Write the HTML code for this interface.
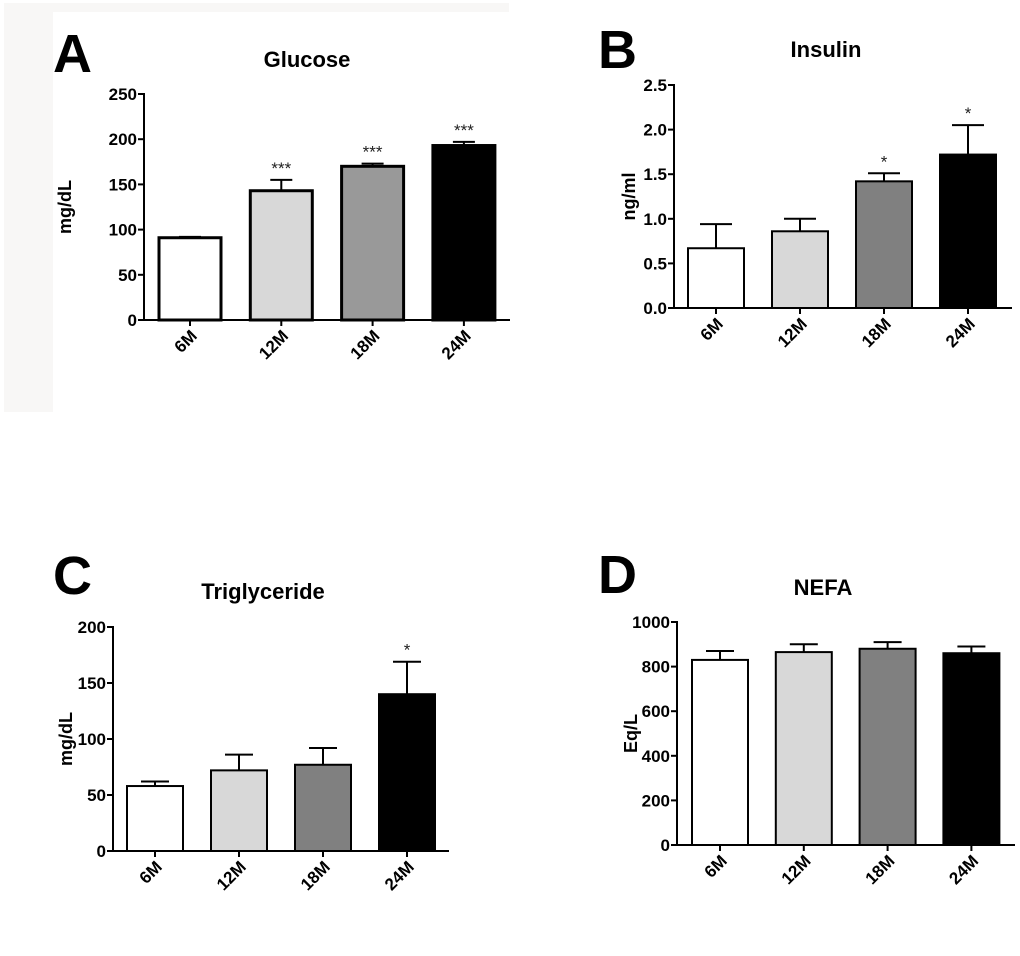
<!DOCTYPE html>
<html><head><meta charset="utf-8">
<style>
html,body{margin:0;padding:0;background:#fff;}
svg{display:block;font-family:"Liberation Sans",Arial,sans-serif;}
</style></head>
<body>
<svg id="fig" width="1020" height="956" viewBox="0 0 1020 956" xmlns="http://www.w3.org/2000/svg">
<rect x="4" y="3" width="505" height="9" fill="#f8f7f6"/>
<rect x="4" y="3" width="49" height="409" fill="#f8f7f6"/>
</svg>
<script>
const categories = ["6M","12M","18M","24M"];
const glucoseMeans = [91,143,170,193];
const glucoseErr = [1,12,3,4];
const glucoseSig = ["","***","***","***"];
const glucoseTicks = [0,50,100,150,200,250];
const insulinMeans = [0.67,0.86,1.42,1.72];
const insulinErr = [0.27,0.14,0.09,0.33];
const insulinSig = ["","","*","*"];
const insulinTicks = [0,0.5,1.0,1.5,2.0,2.5];
const insulinTickLabels = ["0.0","0.5","1.0","1.5","2.0","2.5"];
const trigMeans = [58,72,77,140];
const trigErr = [4,14,15,29];
const trigSig = ["","","","*"];
const trigTicks = [0,50,100,150,200];
const nefaMeans = [830,865,880,860];
const nefaErr = [40,35,30,30];
const nefaSig = ["","","",""];
const nefaTicks = [0,200,400,600,800,1000];

const NS="http://www.w3.org/2000/svg";
const svg=document.getElementById('fig');
function mk(tag,attrs,parent){const e=document.createElementNS(NS,tag);for(const k in attrs)e.setAttribute(k,attrs[k]);(parent||svg).appendChild(e);return e;}

function panel(cfg){
  const g=mk('g',{});
  
  
  const ax=cfg.ax, y0=cfg.y0, yTop=cfg.yTop, max=cfg.max;
  const yS=v=>y0-(v/max)*(y0-yTop);
  const xS=i=>cfg.firstTick+i*cfg.step;
  const sw=cfg.sw;
  const L=mk('text',{x:cfg.lx,y:cfg.ly,'font-size':54,'font-weight':'bold',fill:'#000'},g);
  L.textContent=cfg.letter;
  
  
  const T=mk('text',{x:cfg.tx,y:cfg.ty,'font-size':22,'font-weight':'bold','text-anchor':'middle',fill:'#000'},g);
  T.textContent=cfg.title;
  
  
  const fills=["#ffffff","#d8d8d8",cfg.c3,"#000000"];
  categories.forEach((c,i)=>{
    const cx=xS(i), m=cfg.means[i], e=cfg.err[i];
    const top=yS(m), et=yS(m+e);
    const el=mk('line',{x1:cx,x2:cx,y1:top,y2:et,stroke:'#000','stroke-width':2},g);
    
    
    const cap=mk('line',{x1:cx-cfg.cap,x2:cx+cfg.cap,y1:et,y2:et,stroke:'#000','stroke-width':2},g);
    
    
    const r=mk('rect',{x:cx-cfg.bw/2,y:top,width:cfg.bw,height:y0-top,fill:fills[i],stroke:'#000','stroke-width':sw},g);
    
    
    if(cfg.sig[i]){
      const s=mk('text',{x:cx,y:et-6,'font-size':cfg.sig[i].length>1?17:17,'text-anchor':'middle',fill:'#222'},g);
      s.textContent=cfg.sig[i];
      
      
    }
    const tk=mk('line',{x1:cx,x2:cx,y1:y0,y2:y0+6,stroke:'#000','stroke-width':2},g);
    
    
    const lx=cx+8, ly=y0+17;
    const tl=mk('text',{x:lx,y:ly,'font-size':17,'font-weight':'bold','text-anchor':'end',transform:`rotate(-45 ${lx} ${ly})`,fill:'#000'},g);
    tl.textContent=c;
    
    
  });
  const ya=mk('line',{x1:ax,x2:ax,y1:yTop-1,y2:y0+1,stroke:'#000','stroke-width':2},g);
  
  
  const xa=mk('line',{x1:ax-6,x2:cfg.xEnd,y1:y0,y2:y0,stroke:'#000','stroke-width':2},g);
  
  
  cfg.ticks.forEach((v,k)=>{
    const y=yS(v);
    const tk=mk('line',{x1:ax-6,x2:ax,y1:y,y2:y,stroke:'#000','stroke-width':2},g);
    
    
    const t=mk('text',{x:ax-7,y:y+6,'font-size':17,'font-weight':'bold','text-anchor':'end',fill:'#000'},g);
    t.textContent=cfg.tickLabels?cfg.tickLabels[k]:String(v);
    
    
  });
  const yt=mk('text',{x:cfg.ytx,y:(y0+yTop)/2,'font-size':18,'font-weight':'bold','text-anchor':'middle',transform:`rotate(-90 ${cfg.ytx} ${(y0+yTop)/2})`,fill:'#000'},g);
  yt.textContent=cfg.ylabel;
  
  
}

panel({name:'glucose',letter:'A',lx:53,ly:72,title:'Glucose',tx:307,ty:67,ax:144,y0:320,yTop:94,max:250,xEnd:510,firstTick:190,step:91.3,bw:62,cap:11,sw:3,c3:'#999999',means:glucoseMeans,err:glucoseErr,sig:glucoseSig,ticks:glucoseTicks,ylabel:'mg/dL',ytx:71});
panel({name:'insulin',letter:'B',lx:598,ly:68,title:'Insulin',tx:826,ty:57,ax:674,y0:308,yTop:85,max:2.5,xEnd:1012,firstTick:716,step:84,bw:56,cap:16,sw:2,c3:'#808080',means:insulinMeans,err:insulinErr,sig:insulinSig,ticks:insulinTicks,tickLabels:insulinTickLabels,ylabel:'ng/ml',ytx:635});
panel({name:'triglyceride',letter:'C',lx:53,ly:594,title:'Triglyceride',tx:263,ty:599,ax:113,y0:851,yTop:627,max:200,xEnd:449,firstTick:155,step:84,bw:56,cap:14,sw:2,c3:'#808080',means:trigMeans,err:trigErr,sig:trigSig,ticks:trigTicks,ylabel:'mg/dL',ytx:72});
panel({name:'nefa',letter:'D',lx:598,ly:593,title:'NEFA',tx:823,ty:595,ax:677,y0:845,yTop:622,max:1000,xEnd:1015,firstTick:720,step:83.8,bw:56,cap:14,sw:2,c3:'#808080',means:nefaMeans,err:nefaErr,sig:nefaSig,ticks:nefaTicks,ylabel:'Eq/L',ytx:637});
</script>
</body></html>
